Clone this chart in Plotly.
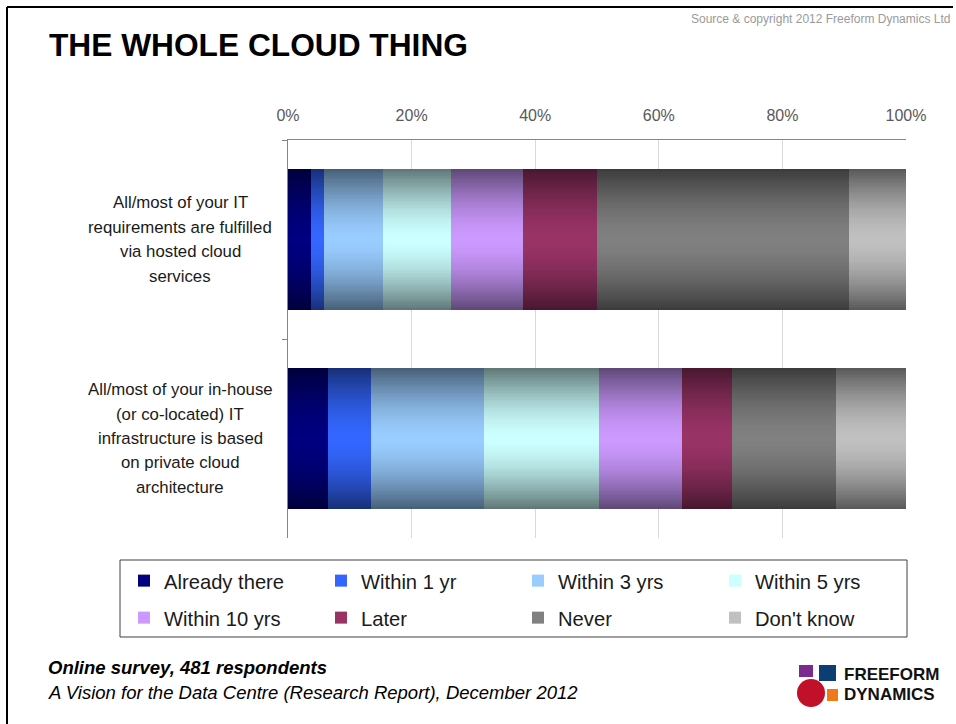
import plotly.graph_objects as go

# ---- data -------------------------------------------------------------
categories = [
    "All/most of your IT<br>requirements are fulfilled<br>via hosted cloud<br>services",
    "All/most of your in-house<br>(or co-located) IT<br>infrastructure is based<br>on private cloud<br>architecture",
]
series_names = ["Already there", "Within 1 yr", "Within 3 yrs", "Within 5 yrs",
                "Within 10 yrs", "Later", "Never", "Don't know"]
hosted_cloud = [3.7, 2.2, 9.5, 10.9, 11.7, 12.0, 40.8, 9.2]
private_cloud = [6.4, 7.1, 18.2, 18.6, 13.4, 8.2, 16.8, 11.3]
series_colors = ["#000080", "#3366FF", "#99CCFF", "#CCFFFF",
                 "#CC99FF", "#993366", "#808080", "#C0C0C0"]
x_ticks = [0, 20, 40, 60, 80, 100]

# ---- page geometry (pixels) -----------------------------------------
W, H = 956, 724
L, R, T, B = 288, 906, 140, 538
PW, PH = R - L, B - T
FONT = "Liberation Sans, Arial, sans-serif"


def px(x):
    return (x - L) / PW


def py(y):
    return (B - y) / PH


def hex_rgb(h):
    h = h.lstrip("#")
    return [int(h[i:i + 2], 16) for i in (0, 2, 4)]


def mix(c1, c2, t):
    return "rgb({},{},{})".format(*[round(a + (b - a) * t) for a, b in zip(c1, c2)])


values = [hosted_cloud, private_cloud]
bar_width = 0.71
layers = 40

fig = go.Figure()

# Each segment is painted as nested overlay bars so that the fill runs
# from a dark rim to a light centre (a horizontal "tube" shading).
bases = [0.0 for _ in categories]
for i, name in enumerate(series_names):
    seg = [v[i] for v in values]
    centre = hex_rgb(series_colors[i])
    rim = [c * 0.47 for c in centre]
    for k in range(layers):
        d = k / (layers - 1)
        t = 1 - (1 - d) ** 1.6
        last = k == layers - 1
        fig.add_trace(go.Bar(
            y=categories, x=seg, base=list(bases), orientation="h",
            width=bar_width * (1 - k / layers),
            marker=dict(color=mix(rim, centre, t), line=dict(width=0)),
            name=name, legendgroup=name,
            showlegend=last,
            legend="legend" if i < 4 else "legend2",
            hoverinfo="skip",
        ))
    bases = [b + s for b, s in zip(bases, seg)]

legend_style = dict(
    orientation="h", xanchor="left", yanchor="middle",
    entrywidth=152, entrywidthmode="pixels",
    font=dict(family=FONT, size=20.2, color="#1a1a1a"),
    bgcolor="rgba(0,0,0,0)", borderwidth=0, traceorder="normal",
    itemclick=False, itemdoubleclick=False,
)

shapes = [
    # slide frame
    dict(type="line", xref="paper", yref="paper", x0=px(7), x1=px(953), y0=py(7), y1=py(7),
         line=dict(color="#000000", width=2)),
    dict(type="line", xref="paper", yref="paper", x0=px(7), x1=px(7), y0=py(7), y1=py(724),
         line=dict(color="#000000", width=2)),
    # legend box
    dict(type="rect", xref="paper", yref="paper", x0=px(120), x1=px(907), y0=py(560), y1=py(637),
         line=dict(color="#404040", width=1), fillcolor="rgba(0,0,0,0)"),
    # logo blocks
    dict(type="rect", xref="paper", yref="paper", x0=px(799), x1=px(813), y0=py(665), y1=py(677),
         line=dict(width=0), fillcolor="#7b2a8f"),
    dict(type="rect", xref="paper", yref="paper", x0=px(819), x1=px(836), y0=py(665), y1=py(681),
         line=dict(width=0), fillcolor="#0c3e74"),
    dict(type="rect", xref="paper", yref="paper", x0=px(827), x1=px(838), y0=py(689), y1=py(701),
         line=dict(width=0), fillcolor="#f07818"),
    dict(type="circle", xref="paper", yref="paper", x0=px(797), x1=px(825), y0=py(679), y1=py(707),
         line=dict(width=0), fillcolor="#c0102a"),
]

annotations = [
    dict(text="<b>THE WHOLE CLOUD THING</b>", xref="paper", yref="paper",
         x=px(47), y=py(45), xanchor="left", yanchor="middle", showarrow=False,
         font=dict(family=FONT, size=31.7, color="#000000")),
    dict(text="Source &amp; copyright 2012 Freeform Dynamics Ltd", xref="paper", yref="paper",
         x=px(952), y=py(19), xanchor="right", yanchor="middle", showarrow=False,
         font=dict(family=FONT, size=12, color="#9a9a9a")),
    dict(text="<b><i>Online survey, 481 respondents</i></b>", xref="paper", yref="paper",
         x=px(46), y=py(667), xanchor="left", yanchor="middle", showarrow=False,
         font=dict(family=FONT, size=18.5, color="#000000")),
    dict(text="<i>A Vision for the Data Centre (Research Report), December 2012</i>",
         xref="paper", yref="paper",
         x=px(46), y=py(692), xanchor="left", yanchor="middle", showarrow=False,
         font=dict(family=FONT, size=18.5, color="#000000")),
    dict(text="<b>FREEFORM</b>", xref="paper", yref="paper",
         x=px(842), y=py(674), xanchor="left", yanchor="middle", showarrow=False,
         font=dict(family=FONT, size=17, color="#111111")),
    dict(text="<b>DYNAMICS</b>", xref="paper", yref="paper",
         x=px(842), y=py(694), xanchor="left", yanchor="middle", showarrow=False,
         font=dict(family=FONT, size=17, color="#111111")),
]

# category labels, one annotation per line for centred multi-line text
line_gap = 24.4
for cat in categories:
    lines = cat.split("<br>")
    n = len(lines)
    for j, ln in enumerate(lines):
        annotations.append(dict(
            text=ln, xref="paper", yref="y", x=px(180), y=cat,
            xanchor="center", yanchor="middle", showarrow=False,
            yshift=((n - 1) / 2 - j) * line_gap,
            font=dict(family=FONT, size=16.8, color="#1a1a1a"),
        ))

fig.update_layout(
    width=W, height=H,
    margin=dict(l=L, r=W - R, t=T, b=H - B, pad=0),
    paper_bgcolor="#ffffff", plot_bgcolor="#ffffff",
    barmode="overlay", bargap=0,
    showlegend=True,
    legend=dict(legend_style, x=px(124), y=py(581)),
    legend2=dict(legend_style, x=px(124), y=py(618)),
    xaxis=dict(
        side="top", range=[0, 100], tickvals=x_ticks,
        ticktext=[f"{v}%" for v in x_ticks],
        showgrid=True, gridcolor="#d9d9d9", gridwidth=1,
        showline=True, linecolor="#868686", linewidth=1,
        ticks="", ticklabelstandoff=12, zeroline=False,
        tickfont=dict(family=FONT, size=16, color="#595959"),
        fixedrange=True,
    ),
    yaxis=dict(
        categoryorder="array", categoryarray=categories,
        range=[1.5, -0.5], showticklabels=False,
        ticks="outside", tickson="boundaries", ticklen=5, tickcolor="#868686",
        showline=True, linecolor="#868686", linewidth=1,
        showgrid=False, zeroline=False, fixedrange=True,
    ),
    shapes=shapes,
    annotations=annotations,
)

fig.write_html("out.html")
